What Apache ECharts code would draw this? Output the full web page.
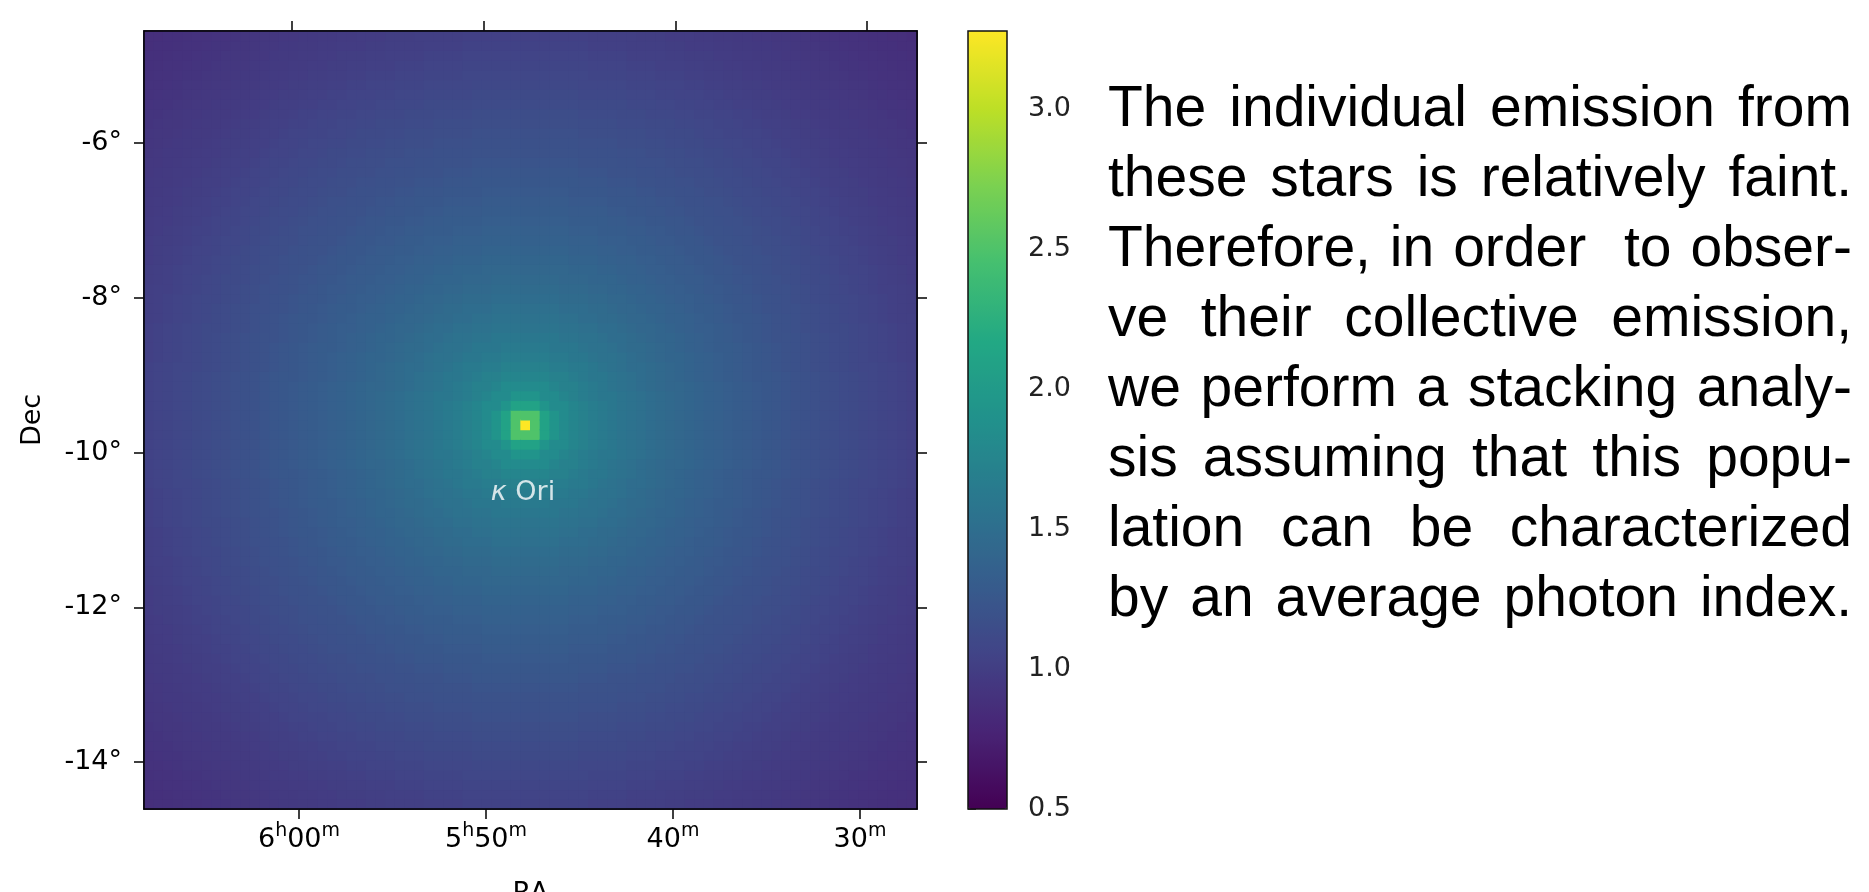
<!DOCTYPE html>
<html><head><meta charset="utf-8">
<script src="https://cdn.jsdelivr.net/npm/echarts@6/dist/echarts.min.js"></script>
<style>html,body{margin:0;padding:0;background:#fff}#c{width:1869px;height:892px}</style>
</head><body><div id="c"></div>
<script>
// ---------------- data ----------------
const nCols = 80;            // map pixels along RA
const nRows = 80;            // map pixels along Dec
const peakCol = 39;          // map pixel of the bright source (from left)
const peakRow = 39;          // map pixel of the bright source (from bottom)
const radialProfile = [
  3.28, 2.50, 2.10, 1.92, 1.82, 1.76, 1.71, 1.67, 1.63, 1.60,
  1.57, 1.545, 1.52, 1.49, 1.47, 1.445, 1.42, 1.40, 1.38, 1.36,
  1.34, 1.32, 1.305, 1.29, 1.27, 1.255, 1.24, 1.22, 1.205, 1.19,
  1.175, 1.16, 1.145, 1.13, 1.115, 1.10, 1.085, 1.07, 1.055, 1.04,
  1.025, 1.01, 1.00, 0.99, 0.98, 0.97, 0.96, 0.95, 0.94, 0.93,
  0.92, 0.91, 0.90, 0.89, 0.88, 0.875, 0.87, 0.86, 0.855, 0.85, 0.845
];
const raTickValues = [60, 50, 40, 30];   // minutes after 5h
const raTickLabels = ['{n|6}{s|h}{n|00}{s|m}', '{n|5}{s|h}{n|50}{s|m}', '{n|40}{s|m}', '{n|30}{s|m}'];
const decTickValues = [-14, -12, -10, -8, -6];
const decTickLabels = ['-14°', '-12°', '-10°', '-8°', '-6°'];
const cbarTickValues = [0.5, 1.0, 1.5, 2.0, 2.5, 3.0];
const cbarTickLabels = ['0.5', '1.0', '1.5', '2.0', '2.5', '3.0'];
const sourceNames = ['κ Ori'];
const sourcePositions = [[47.86, -9.62]];  // RA minutes after 5h, Dec deg
const paragraphLines = [
  'The individual emission from',
  'these stars is relatively faint.',
  'Therefore, in order  to obser-',
  've  their  collective  emission,',
  'we perform a stacking analy-',
  'sis assuming that this popu-',
  'lation  can  be  characterized',
  'by an average photon index.'
];
const viridis = ['#440154','#482475','#414487','#355f8d','#2a788e','#21918c','#22a884','#44bf70','#7ad151','#bddf26','#fde725'];

// ---------------- build ----------------
const colCats = Array.from({length: nCols}, (_, i) => String(i));
const rowCats = Array.from({length: nRows}, (_, i) => String(i));
const heatData = [];
for (let i = 0; i < nCols; i++) {
  for (let j = 0; j < nRows; j++) {
    const r = Math.round(Math.hypot(i - peakCol, j - peakRow));
    heatData.push([i, j, radialProfile[Math.min(r, radialProfile.length - 1)]]);
  }
}

const P = {left: 144, top: 31, width: 773, height: 778};
const CB = {left: 968, top: 31, width: 39, height: 778};
const cbMin = 0.5, cbMax = 3.279;

const font = 'DejaVu Sans';
const FS = 27;
const raLabelMap = {};
raTickValues.forEach((v, i) => raLabelMap[v] = raTickLabels[i]);
const decLabelMap = {};
decTickValues.forEach((v, i) => decLabelMap[v] = decTickLabels[i]);
const cbLabelMap = {};
cbarTickValues.forEach((v, i) => cbLabelMap[v] = cbarTickLabels[i]);

// paragraph layout (justified)
const TXT = {x0: 1108, x1: 1852, y0: 110, lh: 70, size: 57, sx: 1, family: 'Liberation Sans'};
const mctx = document.createElement('canvas').getContext('2d');
mctx.font = TXT.size + 'px "' + TXT.family + '"';
const paraEls = [];
paragraphLines.forEach((line, li) => {
  const words = line.trim().split(' ');
  const ws = words.map(w => mctx.measureText(w).width * TXT.sx);
  const tot = ws.reduce((a, b) => a + b, 0);
  const gap = words.length > 1 ? (TXT.x1 - TXT.x0 - tot) / (words.length - 1) : 0;
  let x = TXT.x0;
  words.forEach((w, k) => {
    if (w) paraEls.push({
      type: 'text', x: x, y: TXT.y0 + li * TXT.lh, scaleX: TXT.sx,
      style: {text: w, fontSize: TXT.size, fontFamily: TXT.family, fill: '#000', verticalAlign: 'middle', align: 'left'}
    });
    x += ws[k] + gap;
  });
});

const axLine = {show: true, onZero: false, lineStyle: {color: '#000', width: 1.5}};
const chart = echarts.init(document.getElementById('c'), null, {renderer: 'canvas'});
chart.setOption({
  animation: false,
  backgroundColor: '#fff',
  grid: [
    {left: P.left, top: P.top, width: P.width, height: P.height, show: false, outerBoundsMode: 'none', containLabel: false},
    {left: P.left, top: P.top, width: P.width, height: P.height, show: true, backgroundColor: 'transparent', borderColor: '#000', borderWidth: 1.5, z: 5, outerBoundsMode: 'none', containLabel: false},
    {left: CB.left, top: CB.top, width: CB.width, height: CB.height, show: true, backgroundColor: 'transparent', borderColor: '#111', borderWidth: 1.5, z: 6, outerBoundsMode: 'none', containLabel: false}
  ],
  xAxis: [
    {type: 'category', gridIndex: 0, data: colCats, show: false},
    {type: 'value', gridIndex: 1, position: 'bottom', inverse: true, min: 26.95, max: 68.29,
      axisLine: axLine, splitLine: {show: false},
      axisTick: {show: true, length: 10, lineStyle: {color: '#000', width: 1.5}, customValues: raTickValues},
      axisLabel: {show: true, margin: 13, customValues: raTickValues, formatter: v => raLabelMap[v] || '',
        rich: {n: {fontFamily: font, fontSize: FS, color: '#000', lineHeight: 31, verticalAlign: 'bottom'},
               s: {fontFamily: font, fontSize: 19, color: '#000', lineHeight: 19, verticalAlign: 'top'}}},
      name: 'RA', nameLocation: 'middle', nameGap: 71, nameTextStyle: {fontFamily: font, fontSize: FS, color: '#000', verticalAlign: 'top'}},
    {type: 'value', gridIndex: 1, position: 'top', inverse: true, min: 27.39, max: 67.72,
      axisLine: axLine, splitLine: {show: false}, axisLabel: {show: false},
      axisTick: {show: true, length: 10, lineStyle: {color: '#000', width: 1.5}, customValues: raTickValues}},
    {type: 'value', gridIndex: 2, show: false, min: 0, max: 1}
  ],
  yAxis: [
    {type: 'category', gridIndex: 0, data: rowCats, show: false},
    {type: 'value', gridIndex: 1, position: 'left', min: -14.607, max: -4.553,
      axisLine: axLine, splitLine: {show: false},
      axisTick: {show: true, length: 10, lineStyle: {color: '#000', width: 1.5}, customValues: decTickValues},
      axisLabel: {show: true, margin: 22, customValues: decTickValues, formatter: v => decLabelMap[v] || '',
        fontFamily: font, fontSize: FS, color: '#000'},
      name: 'Dec', nameLocation: 'middle', nameGap: 98, nameTextStyle: {fontFamily: font, fontSize: FS, color: '#000'}},
    {type: 'value', gridIndex: 1, position: 'right', min: -14.607, max: -4.553,
      axisLine: axLine, splitLine: {show: false}, axisLabel: {show: false},
      axisTick: {show: true, length: 10, lineStyle: {color: '#000', width: 1.5}, customValues: decTickValues}},
    {type: 'value', gridIndex: 2, position: 'right', min: cbMin, max: cbMax,
      axisLine: {show: false}, splitLine: {show: false},
      axisTick: {show: true, length: 8, lineStyle: {color: '#111', width: 1.5}, customValues: cbarTickValues},
      axisLabel: {show: true, margin: 21, customValues: cbarTickValues, formatter: v => cbLabelMap[v] || '',
        fontFamily: font, fontSize: FS, color: '#222'}}
  ],
  visualMap: {
    type: 'continuous', seriesIndex: 0, dimension: 2, min: cbMin, max: cbMax, calculable: false, show: true,
    left: CB.left, top: CB.top, itemWidth: CB.width, itemHeight: CB.height, padding: 0,
    text: null, showLabel: false, hoverLink: false, orient: 'vertical',
    inRange: {color: viridis}
  },
  series: [
    {type: 'custom', xAxisIndex: 0, yAxisIndex: 0, data: heatData, progressive: 0, silent: true,
      encode: {x: 0, y: 1},
      renderItem: (params, api) => {
        const c = api.coord([api.value(0), api.value(1)]);
        const s = api.size([1, 1]);
        return {type: 'rect', shape: {x: c[0] - s[0] / 2 - 0.5, y: c[1] - s[1] / 2 - 0.5, width: s[0] + 1, height: s[1] + 1},
          style: {fill: api.visual('color')}};
      }},
    {type: 'scatter', xAxisIndex: 1, yAxisIndex: 1, symbolSize: 0, silent: true, z: 3,
      data: sourcePositions.map((p, i) => ({value: p, name: sourceNames[i]})),
      label: {show: true, position: 'bottom', distance: 56, offset: [-3, 0],
        formatter: p => '{k|κ}{t| ' + p.name.replace('κ ', '') + '}',
        rich: {k: {fontFamily: font, fontSize: FS, color: '#fff', fontStyle: 'italic'},
               t: {fontFamily: font, fontSize: FS, color: '#fff'}}}}
  ],
  graphic: paraEls
});
</script>
</body></html>
